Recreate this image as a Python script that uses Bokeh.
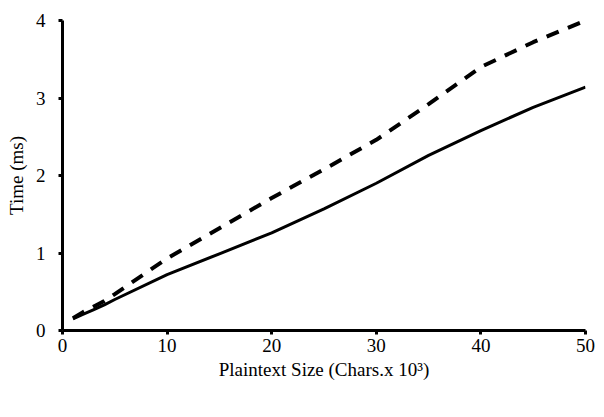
from bokeh.plotting import figure
from bokeh.models import Range1d, Legend, LegendItem, ColumnDataSource, FixedTicker
from bokeh.embed import file_html
from bokeh.resources import INLINE

# Data
size_k = [1, 2, 3, 4, 5, 10, 15, 20, 25, 30, 35, 40, 45, 50]
encryption_ms = [0.15, 0.21, 0.27, 0.33, 0.40, 0.72, 0.99, 1.26, 1.57, 1.90, 2.26, 2.58, 2.88, 3.14]
decryption_ms = [0.16, 0.24, 0.31, 0.38, 0.47, 0.93, 1.32, 1.71, 2.08, 2.46, 2.92, 3.40, 3.72, 4.00]
x_ticks = [0, 10, 20, 30, 40, 50]
y_ticks = [0, 1, 2, 3, 4]

FONT = "Liberation Serif"

p = figure(frame_width=523, frame_height=310, output_backend="svg", toolbar_location=None,
           x_range=Range1d(0, 50), y_range=Range1d(0, 4),
           min_border_left=62, min_border_right=19, min_border_top=20, min_border_bottom=0)
p.outline_line_color = None
p.grid.visible = False
p.background_fill_color = "white"

src = ColumnDataSource(dict(x=size_k, enc=encryption_ms, dec=decryption_ms))
p.line("x", "enc", source=src, line_color="black", line_width=3)
p.line("x", "dec", source=src, line_color="black", line_width=4, line_dash="13 10")

# legend-only renderers (no visible data) so legend glyph styles match the reference
nan = float("nan")
empty = ColumnDataSource(dict(x=[nan], y=[nan]))
r_enc = p.line("x", "y", source=empty, line_color="black", line_width=4, line_dash="9 30")
r_dec = p.line("x", "y", source=empty, line_color="black", line_width=4, line_dash="10 3")

for ax in (p.xaxis[0], p.yaxis[0]):
    ax.axis_line_width = 3
    ax.axis_line_color = "black"
    ax.major_tick_line_width = 3
    ax.major_tick_out = 4
    ax.major_tick_in = 0
    ax.minor_tick_line_color = None
    ax.major_label_text_font = FONT
    ax.major_label_text_font_size = "19px"
    ax.major_label_text_color = "black"
    ax.axis_label_text_font = FONT
    ax.axis_label_text_font_size = "19px"
    ax.axis_label_text_font_style = "normal"
    ax.axis_label_text_color = "black"

p.xaxis.ticker = FixedTicker(ticks=x_ticks)
p.yaxis.ticker = FixedTicker(ticks=y_ticks)
p.xaxis.axis_label = "Plaintext Size (Chars.x 10³)"
p.yaxis.axis_label = "Time (ms)"
p.xaxis.major_label_standoff = 4
p.xaxis.axis_label_standoff = 4
p.yaxis.major_label_standoff = 13
p.yaxis.axis_label_standoff = 6

legend = Legend(items=[LegendItem(label="Encryption", renderers=[r_enc]),
                       LegendItem(label="Decryption", renderers=[r_dec])],
                orientation="horizontal", location=(140, 0),
                label_text_font=FONT, label_text_font_size="21px",
                glyph_width=21, glyph_height=16, label_standoff=0, spacing=27,
                padding=0, margin=0, border_line_color=None, background_fill_alpha=0)
p.add_layout(legend, "below")

open("out.html", "w").write(file_html(p, INLINE))
